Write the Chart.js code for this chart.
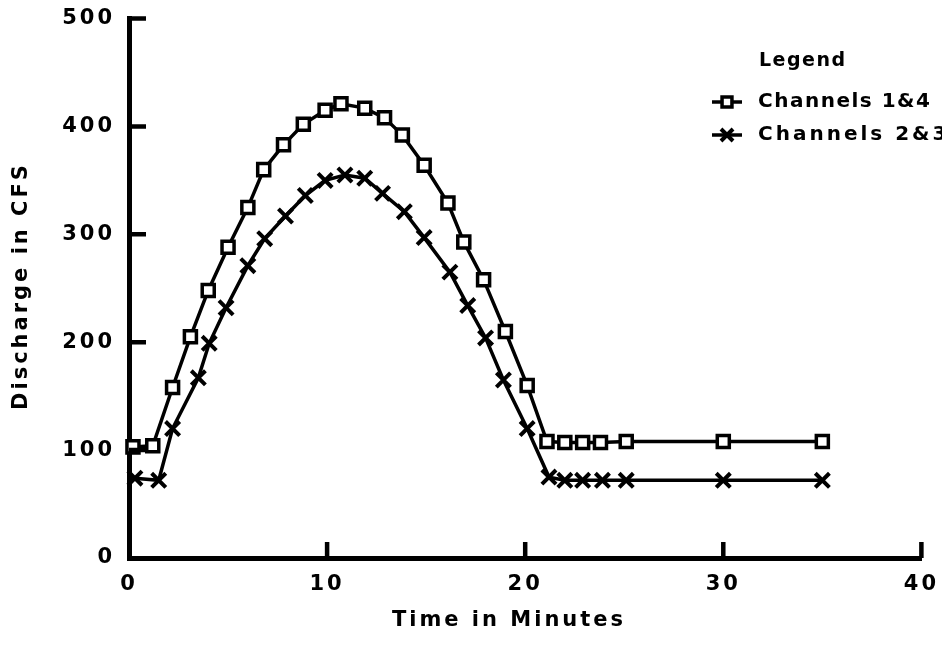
<!DOCTYPE html>
<html>
<head>
<meta charset="utf-8">
<script src="https://cdn.jsdelivr.net/npm/chart.js@4/dist/chart.umd.min.js"></script>
<style>
  html, body { margin: 0; padding: 0; background: #fff; }
  #wrap { width: 942px; height: 660px; position: relative; }
</style>
</head>
<body>
<div id="wrap"><canvas id="dischargeChart"></canvas></div>
<script>
// ── Data ──────────────────────────────────

const timeCh14 = [0.2, 1.2, 2.2, 3.1, 4.0, 5.0, 6.0, 6.8, 7.8, 8.8, 9.9, 10.7, 11.9, 12.9,
                  13.8, 14.9, 16.1, 16.9, 17.9, 19.0, 20.1, 21.1, 22.0, 22.9, 23.8, 25.1, 30, 35];
const flowCh14 = [103, 104, 158, 205, 248, 288, 325, 360, 383, 402, 415, 421, 417, 408,
                  392, 364, 329, 293, 258, 210, 160, 108, 107, 107, 107, 108, 108, 108];

const timeCh23 = [0.3, 1.5, 2.2, 3.5, 4.05, 4.9, 6.0, 6.85, 7.9, 8.9, 9.9, 10.9, 11.9, 12.8,
                  13.9, 14.9, 16.2, 17.1, 18.0, 18.9, 20.1, 21.2, 22.0, 22.9, 23.9, 25.1, 30, 35];
const flowCh23 = [74, 72, 120, 167, 199, 232, 271, 296, 317, 336, 350, 355, 352, 338,
                  321, 297, 265, 234, 204, 165, 120, 75, 72, 72, 72, 72, 72, 72];

const xTicks = [0, 10, 20, 30, 40];
const yTicks = [0, 100, 200, 300, 400, 500];

const FONT = '"DejaVu Sans", sans-serif';

// ── Helpers ───────────────────────────────

function toPoints(xs, ys) {
  return xs.map((t, i) => ({ x: t, y: ys[i] }));
}

// tick marks drawn inward from the axis lines
const inwardTicks = {
  id: 'inwardTicks',
  afterDraw(chart) {
    const { ctx, chartArea, scales: { x, y } } = chart;
    ctx.save();
    ctx.strokeStyle = '#000';
    ctx.lineWidth = 4.5;
    ctx.beginPath();
    yTicks.forEach(v => {
      if (v === 0) return;
      const py = y.getPixelForValue(v);
      ctx.moveTo(chartArea.left, py);
      ctx.lineTo(chartArea.left + 17, py);
    });
    xTicks.forEach(v => {
      if (v === 0) return;
      const px = x.getPixelForValue(v);
      ctx.moveTo(px, chartArea.bottom);
      ctx.lineTo(px, chartArea.bottom - 16);
    });
    ctx.stroke();
    ctx.restore();
  }
};

// axis titles and the hand-lettered legend block
const annotations = {
  id: 'annotations',
  beforeDraw(chart) {
    chart.ctx.letterSpacing = '3px';
  },
  afterDraw(chart) {
    const ctx = chart.ctx;
    ctx.save();
    ctx.fillStyle = '#000';
    ctx.textBaseline = 'middle';

    ctx.font = 'bold 21px ' + FONT;
    ctx.letterSpacing = '3px';
    ctx.textAlign = 'center';
    ctx.fillText('Time in Minutes', 509, 621);

    ctx.save();
    ctx.translate(22, 286);
    ctx.rotate(-Math.PI / 2);
    ctx.fillText('Discharge in CFS', 0, 0);
    ctx.restore();

    ctx.textAlign = 'left';
    ctx.font = 'bold 19px ' + FONT;
    ctx.letterSpacing = '1.5px';
    ctx.fillText('Legend', 759, 61);

    chart.data.datasets.forEach((ds, i) => {
      const cy = 102 + i * 33;
      ctx.strokeStyle = '#000';
      ctx.lineWidth = ds.borderWidth;
      ctx.beginPath();
      ctx.moveTo(712, cy);
      ctx.lineTo(742, cy);
      ctx.stroke();
      ctx.fillStyle = '#fff';
      ctx.lineWidth = ds.pointBorderWidth;
      Chart.helpers.drawPoint(ctx, {
        pointStyle: ds.pointStyle,
        radius: ds.pointRadius - 1.5,
        borderWidth: ds.pointBorderWidth,
        rotation: 0
      }, 727, cy);
      ctx.fillStyle = '#000';
      ctx.font = 'bold 20px ' + FONT;
      ctx.letterSpacing = i === 0 ? '1.5px' : '3px';
      ctx.fillText(ds.label, 758, cy);
    });
    ctx.restore();
  }
};

// ── Chart Setup ───────────────────────────

const ctx = document.getElementById('dischargeChart').getContext('2d');
const chart = new Chart(ctx, {
  type: 'line',
  data: {
    datasets: [
      {
        label: 'Channels 1&4',
        data: toPoints(timeCh14, flowCh14),
        borderColor: '#000',
        borderWidth: 3.5,
        pointStyle: 'rect',
        pointRadius: 8.5,
        pointBorderWidth: 3.5,
        pointBackgroundColor: '#fff',
        pointBorderColor: '#000',
        tension: 0,
        clip: false
      },
      {
        label: 'Channels 2&3',
        data: toPoints(timeCh23, flowCh23),
        borderColor: '#000',
        borderWidth: 3.5,
        pointStyle: 'crossRot',
        pointRadius: 10,
        pointBorderWidth: 4,
        pointBackgroundColor: '#fff',
        pointBorderColor: '#000',
        tension: 0,
        clip: false
      }
    ]
  },
  options: {
    responsive: true,
    maintainAspectRatio: false,
    animation: false,
    events: [],
    layout: { padding: { top: 11, right: 18, left: 0, bottom: 0 } },
    plugins: {
      legend: { display: false },
      tooltip: { enabled: false }
    },
    scales: {
      x: {
        type: 'linear',
        min: 0,
        max: 40,
        afterBuildTicks: s => { s.ticks = xTicks.map(v => ({ value: v })); },
        afterFit: s => { s.height = 102; },
        grid: { display: false },
        border: { display: true, color: '#000', width: 5 },
        ticks: {
          color: '#000',
          padding: 6,
          maxRotation: 0,
          font: { family: FONT, size: 21, weight: 'bold' }
        }
      },
      y: {
        type: 'linear',
        min: 0,
        max: 500,
        afterBuildTicks: s => { s.ticks = yTicks.map(v => ({ value: v })); },
        afterFit: s => { s.width = 129; },
        grid: { display: false },
        border: { display: true, color: '#000', width: 5 },
        ticks: {
          color: '#000',
          padding: 6,
          font: { family: FONT, size: 21, weight: 'bold' }
        }
      }
    }
  },
  plugins: [inwardTicks, annotations]
});
</script>
</body>
</html>
